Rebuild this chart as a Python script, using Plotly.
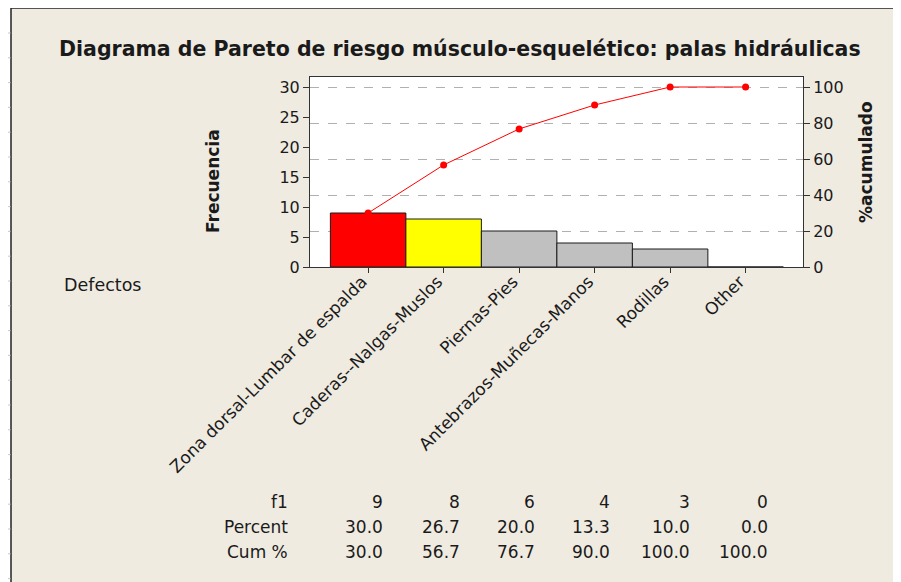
import plotly.graph_objects as go

# Data
categorias = ["Zona dorsal-Lumbar de espalda", "Caderas--Nalgas-Muslos", "Piernas-Pies",
              "Antebrazos-Muñecas-Manos", "Rodillas", "Other"]
frecuencia = [9, 8, 6, 4, 3, 0]
porcentaje = [30.0, 26.7, 20.0, 13.3, 10.0, 0.0]
acumulado = [30.0, 56.7, 76.7, 90.0, 100.0, 100.0]
colores = ["#FF0000", "#FFFF00", "#C0C0C0", "#C0C0C0", "#C0C0C0", "#FFFFFF"]

# page body has an 8px margin, so the figure starts at (8, 8)
OFF = 8
W, H = 901 - OFF, 582 - OFF
BG = "#EFEBE1"
FONT = "DejaVu Sans"
TXT = "#1a1a1a"

def px(x):
    return (x - OFF) / W

def py(y):
    return 1 - (y - OFF) / H

fig = go.Figure()

pos = list(range(len(categorias)))

fig.add_trace(go.Bar(
    x=pos, y=frecuencia, width=1,
    marker=dict(color=colores, line=dict(color="#1a1a1a", width=1)),
    showlegend=False, hoverinfo="skip"
))

fig.add_trace(go.Scatter(
    x=pos, y=acumulado, yaxis="y2", mode="lines+markers",
    line=dict(color="#FF0000", width=1),
    marker=dict(color="#FF0000", size=7),
    showlegend=False, hoverinfo="skip"
))

fig.update_layout(
    width=W, height=H,
    margin=dict(l=0, r=0, t=0, b=0),
    paper_bgcolor=BG, plot_bgcolor="white",
    font=dict(family=FONT, size=14, color=TXT),
    xaxis=dict(domain=[px(310), px(803)], range=[-0.77, 5.76], automargin=False,
               tickmode="array", tickvals=pos, ticktext=categorias,
               tickangle=-45, ticks="outside", ticklen=5, tickcolor="#333",
               ticklabelstandoff=-8, ticklabelshift=-6,
               showline=True, linecolor="#333", linewidth=1, mirror=True,
               showgrid=False, zeroline=False,
               tickfont=dict(size=17, color=TXT)),
    yaxis=dict(domain=[py(267), py(77)], range=[0, 31.67], automargin=False,
               tickvals=[0, 5, 10, 15, 20, 25, 30],
               ticks="outside", ticklen=6, tickcolor="#333",
               showline=True, linecolor="#333", linewidth=1,
               showgrid=False, zeroline=False,
               tickfont=dict(size=16, color=TXT)),
    yaxis2=dict(overlaying="y", side="right", range=[0, 105.56], automargin=False,
                tickvals=[0, 20, 40, 60, 80, 100],
                ticks="outside", ticklen=6, tickcolor="#333",
                showline=True, linecolor="#333", linewidth=1,
                showgrid=True, gridcolor="#B0B0B0", griddash="dash", gridwidth=1,
                zeroline=False,
                tickfont=dict(size=16, color=TXT)),
)

def texto(x, y, t, size, xanchor="center", angle=0):
    fig.add_annotation(x=px(x), y=py(y), xref="paper", yref="paper", text=t,
                       xanchor=xanchor, yanchor="middle", textangle=angle,
                       showarrow=False, font=dict(size=size, color=TXT))

# Title and axis titles
texto(460, 49, "<b>Diagrama de Pareto de riesgo músculo-esquelético: palas hidráulicas</b>", 20.5)
texto(213, 181, "<b>Frecuencia</b>", 17, angle=-90)
texto(866, 162, "<b>%acumulado</b>", 17, angle=-90)
texto(62, 285, "Defectos", 17.5, xanchor="left")

# Table below the chart
filas = ["f1", "Percent", "Cum %"]
valores = [[str(v) for v in frecuencia],
           [f"{v:.1f}" for v in porcentaje],
           [f"{v:.1f}" for v in acumulado]]
col_x = [385, 462, 537, 612, 692, 770]
fila_y = [502, 527, 552]
for r, nombre in enumerate(filas):
    texto(290, fila_y[r], nombre, 17, xanchor="right")
    for c, val in enumerate(valores[r]):
        texto(col_x[c], fila_y[r], val, 17, xanchor="right")

# Spreadsheet edge: white strip on the left with row marks
shapes = [
    dict(type="rect", xref="paper", yref="paper", x0=0, x1=px(11), y0=0, y1=1,
         fillcolor="white", line=dict(width=0), layer="below"),
    dict(type="line", xref="paper", yref="paper", x0=px(11), x1=1, y0=1, y1=1,
         line=dict(color="#222222", width=1.5)),
    dict(type="line", xref="paper", yref="paper", x0=px(11), x1=px(11), y0=0, y1=1,
         line=dict(color="#222222", width=1.5)),
]
yc = 33
while yc < 582:
    shapes.append(dict(type="line", xref="paper", yref="paper", x0=0, x1=px(10.5),
                       y0=py(yc), y1=py(yc), line=dict(color="#C8C8C8", width=1)))
    yc += 24.8
fig.update_layout(shapes=shapes)

fig.write_html("out.html")
